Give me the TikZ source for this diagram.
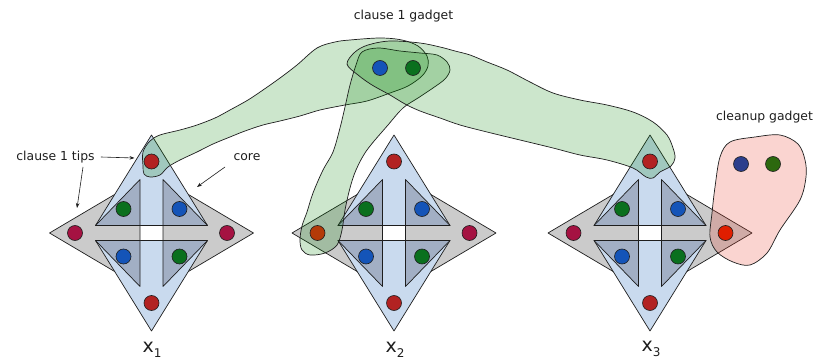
\documentclass[tikz,border=0pt]{standalone}
\usepackage{fontspec}
\setmainfont{DejaVu Sans}
\usetikzlibrary{arrows.meta}
\definecolor{tipgray}{RGB}{203,203,203}
\definecolor{tipblue}{RGB}{201,218,238}
\definecolor{coredark}{RGB}{162,175,196}
\definecolor{dotred}{RGB}{178,34,34}
\definecolor{dotcrim}{RGB}{165,18,66}
\definecolor{dotgreen}{RGB}{10,112,30}
\definecolor{dotblue}{RGB}{20,84,184}
\definecolor{dotrust}{RGB}{180,58,8}
\definecolor{dotbright}{RGB}{224,30,0}
\definecolor{cleanblue}{RGB}{44,62,140}
\definecolor{cleangreen}{RGB}{44,104,14}
\definecolor{blobgreen}{RGB}{0,128,0}
\definecolor{blobred}{RGB}{230,60,40}
\definecolor{inkc}{RGB}{30,30,30}
\tikzset{
  tri/.style={draw=inkc, line width=0.7pt, line join=round},
  graytri/.style={tri, fill=tipgray},
  bluetri/.style={tri, fill=tipblue},
  darktri/.style={tri, fill=coredark},
  dotc/.style={draw=inkc, line width=0.6pt, fill=#1},
  blob/.style={draw=inkc, line width=0.7pt, fill=blobgreen, fill opacity=0.2},
  cleanblob/.style={draw=inkc, line width=0.7pt, fill=blobred, fill opacity=0.22},
  lbl/.style={font=\fontsize{12.4}{14}\selectfont, text=inkc, inner sep=0pt},
  varlbl/.style={text=inkc, inner sep=0pt},
  arr/.style={-{Stealth[length=5pt,width=3.6pt]}, line width=0.6pt, draw=inkc},
}
\newcommand{\mygadget}[2]{%
  \begin{scope}[shift={(#1,#2)}]
    \draw[graytri] (-102,0) -- (-11.5,-53.5) -- (-11.5,53.5) -- cycle;
    \draw[graytri] (102,0) -- (11.5,-53.5) -- (11.5,53.5) -- cycle;
    \draw[bluetri] (0,-98) -- (-56,-7.5) -- (56,-7.5) -- cycle;
    \draw[bluetri] (0,98) -- (-56,7.5) -- (56,7.5) -- cycle;
    \draw[darktri] (-11.5,-53.5) -- (-11.5,-7.5) -- (-56,-7.5) -- cycle;
    \draw[darktri] (11.5,-53.5) -- (11.5,-7.5) -- (56,-7.5) -- cycle;
    \draw[darktri] (-11.5,53.5) -- (-11.5,7.5) -- (-56,7.5) -- cycle;
    \draw[darktri] (11.5,53.5) -- (11.5,7.5) -- (56,7.5) -- cycle;
  \end{scope}}
\newcommand{\mydots}[4]{%
  \begin{scope}[shift={(#1,#2)}]
    \filldraw[dotc=dotred] (0,-71.5) circle[radius=7.5pt];
    \filldraw[dotc=dotred] (0,70) circle[radius=7.5pt];
    \filldraw[dotc=#3] (-76.5,0) circle[radius=7.5pt];
    \filldraw[dotc=#4] (75.5,0) circle[radius=7.5pt];
    \filldraw[dotc=dotgreen] (-28,-24) circle[radius=7.5pt];
    \filldraw[dotc=dotblue] (28,-24) circle[radius=7.5pt];
    \filldraw[dotc=dotblue] (-28,23.5) circle[radius=7.5pt];
    \filldraw[dotc=dotgreen] (28,23.5) circle[radius=7.5pt];
  \end{scope}}
\newcommand{\varname}[1]{\fontsize{19}{19}\selectfont x\raisebox{-0.5ex}{\fontsize{12}{12}\selectfont #1}}
\begin{document}
\begin{tikzpicture}[x=1pt,y=-1pt]
\useasboundingbox (0,0) rectangle (813,363);
% variable gadgets
\mygadget{151.5}{233}
\mygadget{394}{233}
\mygadget{650}{233}
% clause gadget blobs
\draw[blob] plot[smooth cycle, tension=0.55] coordinates {
  (143,166) (143,152) (150,141) (160,135) (180,130) (197,125) (215,118)
  (230,110) (248,100) (263,90) (280,78) (297,65) (317,48) (335,42) (350,40)
  (380,38) (402,40) (418,46) (427,56) (428,66) (422,76) (408,86) (390,93)
  (367,101) (345,105) (320,110) (300,116) (280,121) (263,125) (245,131)
  (230,137) (213,144) (197,152) (180,160) (168,167) (160,175) (150,177) (144,174)};
\draw[blob] plot[smooth cycle, tension=0.55] coordinates {
  (300,240) (302,226) (307,212) (313,193) (323,170) (333,152) (340,128)
  (345,107) (350,85) (356,65) (362,52) (378,48) (400,51) (420,53) (437,55)
  (447,62) (450,70) (445,79) (433,88) (418,98) (403,108) (388,125) (367,150)
  (356,170) (350,188) (345,210) (342,230) (337,245) (325,253) (310,255) (302,250)};
\draw[blob] plot[smooth cycle, tension=0.55] coordinates {
  (347,64) (355,52) (368,45) (390,41) (420,43) (440,47) (455,51) (470,55)
  (487,62) (507,70) (530,82) (553,93) (580,100) (607,105) (633,112) (653,122)
  (667,135) (673,148) (675,158) (671,166) (660,172) (653,178) (646,177)
  (633,168) (607,160) (580,155) (553,148) (520,140) (487,132) (460,125)
  (440,118) (420,111) (405,104) (390,95) (372,85) (358,75)};
% cleanup gadget
\draw[cleanblob] plot[smooth cycle, tension=0.55] coordinates {
  (730,142) (755,137) (780,135) (798,144) (805,160) (806,177) (800,200)
  (780,230) (767,253) (750,265) (733,262) (717,252) (710,237) (712,213)
  (715,187) (720,157)};
% dots
\mydots{151.5}{233}{dotcrim}{dotcrim}
\mydots{394}{233}{dotrust}{dotcrim}
\mydots{650}{233}{dotcrim}{dotbright}
\filldraw[dotc=dotblue] (380,68) circle[radius=7.5pt];
\filldraw[dotc=dotgreen] (413,68) circle[radius=7.5pt];
\filldraw[dotc=cleanblue] (741,164) circle[radius=7.5pt];
\filldraw[dotc=cleangreen] (773,164) circle[radius=7.5pt];
% labels
\node[lbl] (title) at (403.5,16) {clause 1 gadget};
\node[lbl] (cleanlbl) at (764.5,117) {cleanup gadget};
\node[lbl] (tips) at (55.5,157) {clause 1 tips};
\node[lbl] (core) at (247,157) {core};
\node[varlbl] (lx1) at (152,350) {\varname{1}};
\node[varlbl] (lx2) at (395,350) {\varname{2}};
\node[varlbl] (lx3) at (651,349) {\varname{3}};
% arrows
\coordinate (tipA) at (134.5,158);
\coordinate (tipBs) at (83,167);
\coordinate (tipBe) at (77,208);
\coordinate (coreS) at (225,167);
\coordinate (coreE) at (197,187);
\draw[arr] ([xshift=6pt]tips.east) -- (tipA);
\draw[arr] (tipBs) -- (tipBe);
\draw[arr] (coreS) -- (coreE);
\end{tikzpicture}
\end{document}
